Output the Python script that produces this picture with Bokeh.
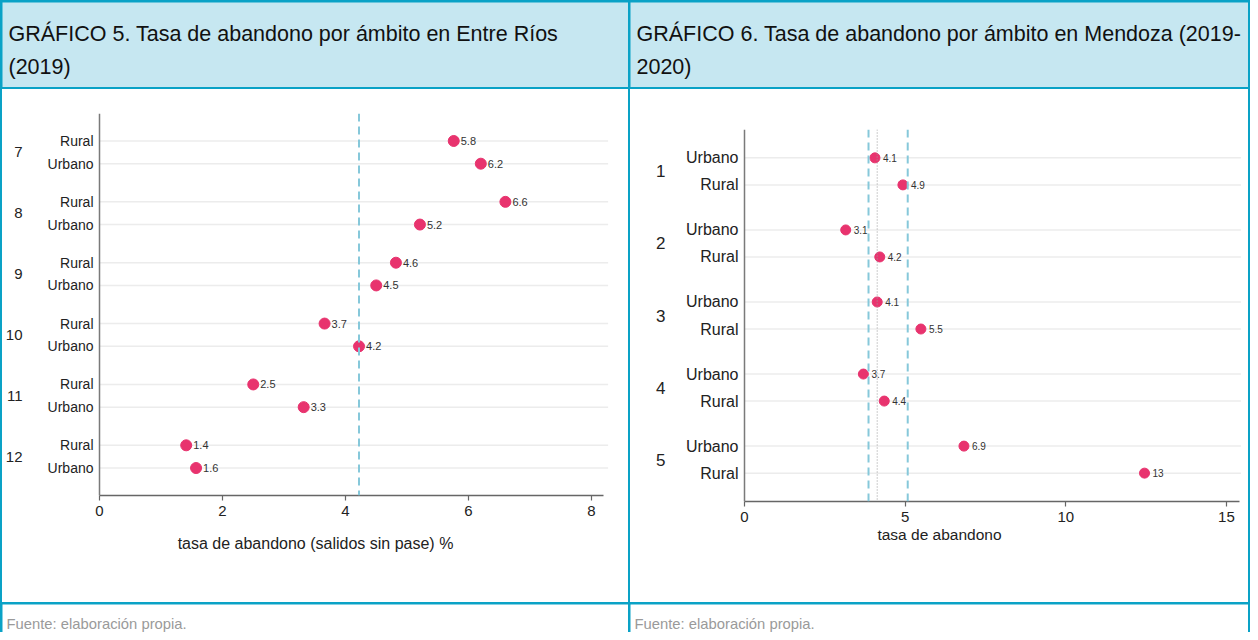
from bokeh.plotting import figure
from bokeh.models import Range1d, FactorRange, Span, FixedTicker, ColumnDataSource
from bokeh.layouts import row, column
from bokeh.embed import file_html
from bokeh.resources import INLINE
from bokeh.core.properties import value

FONT = "Liberation Sans"
TEAL = "#0aa2c6"
HEAD_BG = "#c6e7f1"
PINK = "#e8336e"
DASH = "#86c8da"

# ---------------- data ----------------
titulo1 = ["GRÁFICO 5. Tasa de abandono por ámbito en Entre Ríos", "(2019)"]
titulo2 = ["GRÁFICO 6. Tasa de abandono por ámbito en Mendoza (2019-", "2020)"]
fuente = "Fuente: elaboración propia."

# Entre Ríos
grupos1 = ["7", "8", "9", "10", "11", "12"]
ambitos1 = ["Rural", "Urbano"]
valores1 = [5.76, 6.20, 6.60, 5.21, 4.82, 4.50, 3.66, 4.22, 2.50, 3.32, 1.41, 1.57]
etiquetas1 = ["5.8", "6.2", "6.6", "5.2", "4.6", "4.5", "3.7", "4.2", "2.5", "3.3", "1.4", "1.6"]
promedio1 = [4.22]
xticks1 = [0, 2, 4, 6, 8]
xlabel1 = "tasa de abandono (salidos sin pase) %"

# Mendoza
grupos2 = ["1", "2", "3", "4", "5"]
ambitos2 = ["Urbano", "Rural"]
valores2 = [4.06, 4.93, 3.15, 4.21, 4.13, 5.49, 3.70, 4.35, 6.83, 12.45]
etiquetas2 = ["4.1", "4.9", "3.1", "4.2", "4.1", "5.5", "3.7", "4.4", "6.9", "13"]
banda2 = [3.86, 5.08]
media2 = [4.13]
xticks2 = [0, 5, 10, 15]
xlabel2 = "tasa de abandono"

PW1 = 626         # left panel width
PW2 = 618         # right panel width
HH = 85           # header height
CH = 513          # chart height
FH = 28           # footer height


def clean(p):
    p.outline_line_color = None
    p.outline_line_alpha = 0
    return p


def header(lines, W):
    p = figure(width=W, height=HH, x_range=Range1d(0, W), y_range=Range1d(0, HH),
               output_backend="svg", toolbar_location=None, title=None,
               x_axis_location=None, y_axis_location=None, min_border=0,
               background_fill_color=HEAD_BG, border_fill_color=HEAD_BG)
    clean(p)
    p.grid.visible = False
    src = ColumnDataSource(dict(x=[6] * len(lines), y=[HH - 31, HH - 64], t=lines))
    p.text(x="x", y="y", text="t", source=src, text_baseline="middle", text_align="left",
           text_font=value(FONT), text_font_size="21.5px", text_color="#111111")
    return p


def footer(W):
    p = figure(width=W, height=FH, x_range=Range1d(0, W), y_range=Range1d(0, FH),
               output_backend="svg", toolbar_location=None, title=None,
               x_axis_location=None, y_axis_location=None, min_border=0,
               background_fill_color="white", border_fill_color="white")
    clean(p)
    p.grid.visible = False
    src = ColumnDataSource(dict(x=[4], y=[FH - 19], t=[fuente]))
    p.text(x="x", y="y", text="t", source=src, text_baseline="middle", text_align="left",
           text_font=value(FONT), text_font_size="14.8px", text_color="#9a9a9a")
    return p


def chart(W, grupos, ambitos, valores, etiquetas, xticks, xlabel, top, bottom, axis_px, ppu,
          xmax, gridmax, gpad, rpad, row_fs, grp_fs, grp_off, val_fs, val_off, pt_size,
          ax_fs, ax_standoff):
    factors = [(g, a) for g in grupos for a in ambitos]
    yr = FactorRange(factors=list(reversed(factors)), factor_padding=0, group_padding=gpad,
                     range_padding=rpad, range_padding_units="absolute")
    xr = Range1d(-axis_px / ppu, (W - axis_px) / ppu)
    p = figure(width=W, height=CH, x_range=xr, y_range=yr, y_axis_location=None,
               output_backend="svg", toolbar_location=None, title=None,
               min_border_left=0, min_border_right=0, min_border_top=top,
               min_border_bottom=bottom,
               background_fill_color=None, border_fill_color=None,
               styles={"background-color": "white"})
    clean(p)
    p.xgrid.visible = False
    p.ygrid.visible = False

    # horizontal guide lines at each row
    gsrc_lines = ColumnDataSource(dict(x0=[0] * len(factors), x1=[gridmax] * len(factors),
                                       y=factors))
    p.segment(x0="x0", x1="x1", y0="y", y1="y", source=gsrc_lines,
              line_color="#ececec", line_width=1.5)

    ax = p.xaxis[0]
    ax.ticker = FixedTicker(ticks=xticks)
    ax.bounds = (0, xmax)
    ax.axis_label = xlabel
    ax.axis_label_text_font = FONT
    ax.axis_label_text_font_style = "normal"
    ax.axis_label_text_font_size = ax_fs
    ax.axis_label_text_color = "#222222"
    ax.axis_label_standoff = ax_standoff
    ax.major_label_text_font = FONT
    ax.major_label_text_font_size = "15px"
    ax.major_label_text_color = "#222222"
    ax.major_label_standoff = 5
    ax.axis_line_color = "#666666"
    ax.axis_line_width = 1.5
    ax.major_tick_line_color = "#666666"
    ax.major_tick_line_width = 1.2
    ax.major_tick_in = 0
    ax.major_tick_out = 5
    ax.minor_tick_line_color = None

    # y axis line
    p.add_layout(Span(location=0, dimension="height", line_color="#7a7a7a", line_width=1.5))

    # row labels
    rsrc = ColumnDataSource(dict(x=[0] * len(factors), y=factors, t=[f[1] for f in factors]))
    p.text(x="x", y="y", text="t", source=rsrc, x_offset=-6, text_align="right",
           text_baseline="middle", text_font=value(FONT), text_font_size=row_fs,
           text_color="#222222")
    # group labels
    gsrc = ColumnDataSource(dict(x=[0] * len(grupos), y=grupos, t=grupos))
    p.text(x="x", y="y", text="t", source=gsrc, x_offset=grp_off, text_align="right",
           text_baseline="middle", text_font=value(FONT), text_font_size=grp_fs,
           text_color="#222222")

    src = ColumnDataSource(dict(x=valores, y=factors, t=etiquetas))
    p.scatter(x="x", y="y", source=src, size=pt_size, fill_color=PINK, line_color=PINK)
    p.text(x="x", y="y", text="t", source=src, x_offset=val_off, text_align="left",
           text_baseline="middle", text_font=value(FONT), text_font_size=val_fs,
           text_color="#333333")
    return p


c1 = chart(PW1, grupos1, ambitos1, valores1, etiquetas1, xticks1, xlabel1,
           top=24, bottom=CH - 406, axis_px=97, ppu=61.5, xmax=8.2, gridmax=8.27,
           gpad=0.68, rpad=0.71, row_fs="14px", grp_fs="15px", grp_off=-77,
           val_fs="11px", val_off=7, pt_size=11, ax_fs="16px", ax_standoff=16)
for v in promedio1:
    c1.add_layout(Span(location=v, dimension="height", line_color=DASH, line_width=2,
                       line_dash="8 5"))

c2 = chart(PW2, grupos2, ambitos2, valores2, etiquetas2, xticks2, xlabel2,
           top=40, bottom=CH - 412, axis_px=114, ppu=32.13, xmax=15.4, gridmax=15.45,
           gpad=0.667, rpad=0.55, row_fs="16px", grp_fs="17px", grp_off=-79,
           val_fs="10px", val_off=8, pt_size=10, ax_fs="15.5px", ax_standoff=1)
for v in media2:
    c2.add_layout(Span(location=v, dimension="height", line_color="#9a9a9a", line_width=1,
                       line_dash="1 2"))
for v in banda2:
    c2.add_layout(Span(location=v, dimension="height", line_color=DASH, line_width=2,
                       line_dash="8 5"))

left = column(header(titulo1, PW1), c1, footer(PW1), spacing=2)
right = column(header(titulo2, PW2), c2, footer(PW2), spacing=2)
page = row(left, right, spacing=2,
           styles={"background-color": TEAL, "padding": "2px 2px 0px 2px"})

open("out.html", "w").write(file_html(page, INLINE))
